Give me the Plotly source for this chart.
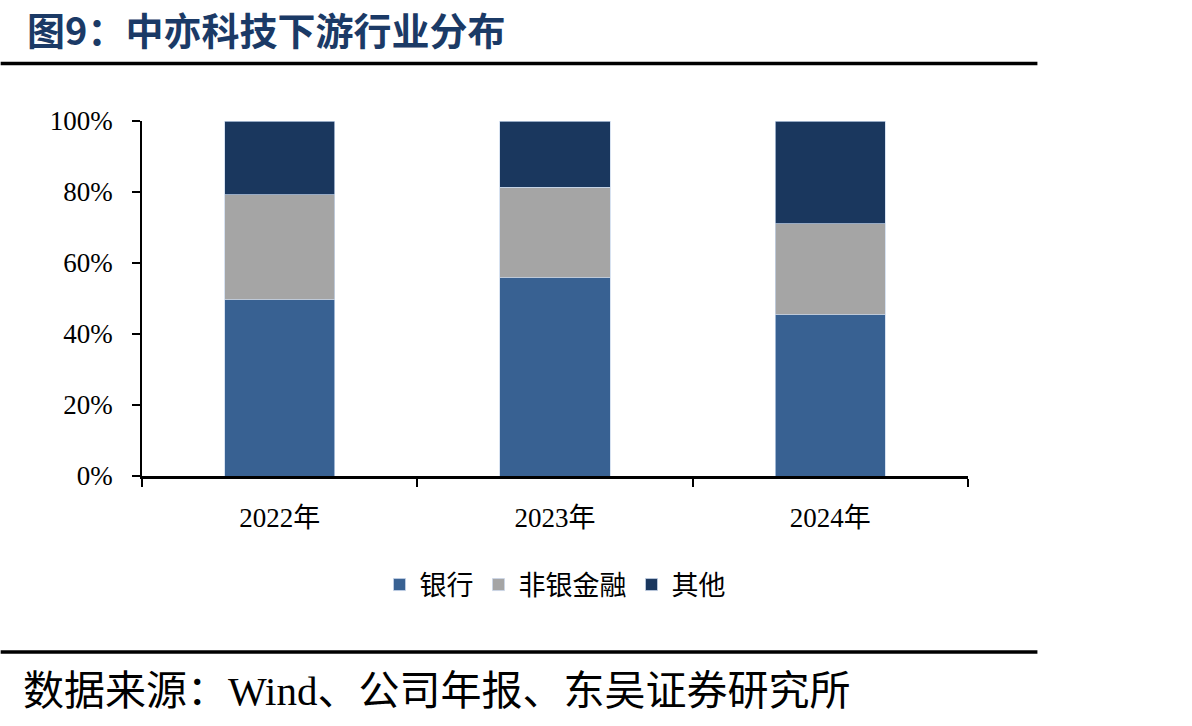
import plotly.graph_objects as go

years = ["2022年", "2023年", "2024年"]
bank = [0.496, 0.559, 0.454]
nonbank = [0.296, 0.254, 0.256]
other = [0.208, 0.187, 0.290]
series_names = ["银行", "非银金融", "其他"]
series_colors = ["#386192", "#a5a5a5", "#1a375e"]
yticks = [0, 0.2, 0.4, 0.6, 0.8, 1.0]
title_text = "图9：中亦科技下游行业分布"
source_text = "数据来源：Wind、公司年报、东吴证券研究所"

W, H = 1192, 726
L, R, T, B = 141.5, 968.5, 121, 476

def px(x):
    return (x - L) / (R - L)

def py(y):
    return (B - y) / (B - T)

fig = go.Figure()
for name, vals, col in zip(series_names, [bank, nonbank, other], series_colors):
    fig.add_trace(go.Bar(
        x=years, y=vals, name=name, width=0.4,
        marker=dict(color=col, line=dict(color="rgba(200,215,235,0.9)", width=0.8)),
    ))

serif = "Liberation Serif, Noto Sans CJK SC"
cjk = "Noto Sans CJK SC"

fig.update_layout(
    width=W, height=H,
    barmode="stack",
    paper_bgcolor="white", plot_bgcolor="white",
    margin=dict(l=L, r=W - R, t=T, b=H - B, pad=0),
    showlegend=True,
    legend=dict(orientation="h", x=px(555), y=py(585), xanchor="center", yanchor="middle",
                traceorder="normal", font=dict(family=cjk, size=27, color="black"),
                itemwidth=30),
    xaxis=dict(
        type="category", tickson="boundaries", ticks="outside", ticklen=8, tickwidth=2,
        tickcolor="black", showline=True, linecolor="black", linewidth=2.5,
        showgrid=False, zeroline=False, ticklabelstandoff=16,
        tickfont=dict(family=serif, size=27, color="black"),
    ),
    yaxis=dict(
        range=[0, 1], tickvals=yticks, tickformat=".0%", ticks="outside", ticklen=8,
        tickwidth=1.5, tickcolor="black", showline=True, linecolor="black", linewidth=1.5,
        showgrid=False, zeroline=False, ticklabelstandoff=14,
        tickfont=dict(family=serif, size=27, color="black"),
    ),
)

fig.add_annotation(text="<b>" + title_text + "</b>", xref="paper", yref="paper",
                   x=px(24), y=py(29), xanchor="left", yanchor="middle", showarrow=False,
                   font=dict(family=cjk, size=38, color="#1b3a66"))
fig.add_annotation(text=source_text, xref="paper", yref="paper",
                   x=px(20), y=py(691), xanchor="left", yanchor="middle", showarrow=False,
                   font=dict(family=serif, size=41, color="black"))

for yline in (63.5, 652):
    fig.add_shape(type="line", xref="paper", yref="paper",
                  x0=px(0), x1=px(1038), y0=py(yline), y1=py(yline),
                  line=dict(color="black", width=3.5))

fig.write_html("out.html")
